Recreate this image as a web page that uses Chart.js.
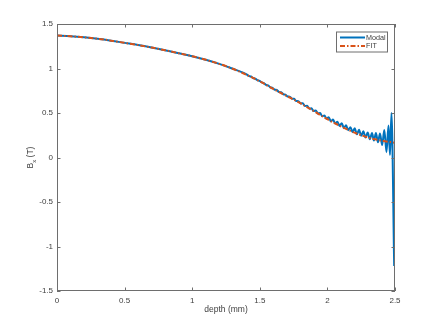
<!DOCTYPE html>
<html>
<head>
<meta charset="utf-8">
<script src="https://cdn.jsdelivr.net/npm/chart.js@4/dist/chart.umd.min.js"></script>
<style>
  html, body { margin: 0; padding: 0; background: #fff; }
  #wrap { width: 436px; height: 327px; }
</style>
</head>
<body>
<div id="wrap"><canvas id="bxChart"></canvas></div>
<script>
// values
const fitDepth = [0, 0.1, 0.2, 0.3, 0.4, 0.5, 0.6, 0.7, 0.8, 0.9, 1.0, 1.1, 1.2,
    1.3, 1.4, 1.5, 1.6, 1.7, 1.8, 1.9, 2.0, 2.1, 2.2, 2.3, 2.4, 2.5];
const fitBx = [1.370, 1.362, 1.350, 1.334, 1.313, 1.288, 1.263, 1.235, 1.205, 1.172,
    1.138, 1.098, 1.052, 0.997, 0.930, 0.855, 0.770, 0.690, 0.610, 0.520, 0.430,
    0.350, 0.280, 0.225, 0.190, 0.165];

const modalDepth = [0, 0.1, 0.2, 0.3, 0.4, 0.5, 0.6, 0.7, 0.8, 0.9, 1.0, 1.1, 1.2, 1.3,
    1.402, 1.418, 1.434, 1.450, 1.466, 1.482, 1.498, 1.514, 1.530, 1.546, 1.562,
    1.578, 1.594, 1.610, 1.626, 1.642, 1.658, 1.674, 1.690, 1.706, 1.722, 1.738,
    1.754, 1.770, 1.786, 1.802, 1.818, 1.834, 1.850, 1.866, 1.882, 1.898, 1.914,
    1.930, 1.946, 1.962, 1.978, 1.994, 2.010, 2.026, 2.042, 2.058, 2.074, 2.090,
    2.106, 2.122, 2.138, 2.154, 2.170, 2.186, 2.202, 2.218, 2.234, 2.250, 2.266,
    2.282, 2.298, 2.314, 2.330, 2.344, 2.359, 2.374, 2.389, 2.405, 2.421, 2.437,
    2.452, 2.463, 2.474, 2.494];
const modalBx = [1.370, 1.362, 1.350, 1.334, 1.313, 1.288, 1.263, 1.235, 1.205, 1.172,
    1.138, 1.098, 1.052, 0.997,
    0.934, 0.917, 0.910, 0.893, 0.886, 0.869, 0.862, 0.843, 0.837, 0.816, 0.809,
    0.789, 0.782, 0.762, 0.758, 0.736, 0.733, 0.711, 0.707, 0.685, 0.684, 0.660,
    0.659, 0.634, 0.633, 0.608, 0.610, 0.579, 0.581, 0.551, 0.552, 0.522, 0.529,
    0.493, 0.501, 0.464, 0.472, 0.435, 0.452, 0.406, 0.426, 0.381, 0.401, 0.355,
    0.386, 0.330, 0.363, 0.307, 0.341, 0.285, 0.329, 0.260, 0.311, 0.243, 0.294,
    0.225, 0.280, 0.205, 0.275, 0.190, 0.275, 0.170, 0.270, 0.140, 0.310, 0.060,
    0.360, 0.030, 0.500, -1.220];

const xTicks = [0, 0.5, 1, 1.5, 2, 2.5];
const yTicks = [-1.5, -1, -0.5, 0, 0.5, 1, 1.5];
const seriesNames = ['Modal', 'FIT'];

const modalColor = '#0072BD';
const fitColor = '#D95319';
const fitDash = [5, 2, 1.5, 2];
const axisColor = '#6e6e6e';
const textColor = '#404040';

function toPoints(xs, ys) {
    return xs.map((x, i) => ({ x: x, y: ys[i] }));
}

// MATLAB style box, inward ticks, axis labels and legend
const matlabAxes = {
    id: 'matlabAxes',
    afterDraw(chart) {
        const ctx = chart.ctx;
        const area = chart.chartArea;
        const xs = chart.scales.x;
        const ys = chart.scales.y;
        const tl = 3.5;
        ctx.save();
        ctx.strokeStyle = axisColor;
        ctx.lineWidth = 1;
        ctx.strokeRect(area.left + 0.5, area.top + 0.5, area.right - area.left - 1, area.bottom - area.top - 1);
        ctx.beginPath();
        xTicks.forEach(v => {
            const px = Math.round(xs.getPixelForValue(v)) + 0.5;
            ctx.moveTo(px, area.bottom);
            ctx.lineTo(px, area.bottom - tl);
            ctx.moveTo(px, area.top);
            ctx.lineTo(px, area.top + tl);
        });
        yTicks.forEach(v => {
            const py = Math.round(ys.getPixelForValue(v)) + 0.5;
            ctx.moveTo(area.left, py);
            ctx.lineTo(area.left + tl, py);
            ctx.moveTo(area.right, py);
            ctx.lineTo(area.right - tl, py);
        });
        ctx.stroke();

        // axis labels
        ctx.fillStyle = textColor;
        ctx.font = '8.5px "Liberation Sans", Arial, sans-serif';
        ctx.textAlign = 'center';
        ctx.textBaseline = 'middle';
        ctx.fillText('depth (mm)', (area.left + area.right) / 2, 310);

        ctx.save();
        ctx.translate(31, (area.top + area.bottom) / 2);
        ctx.rotate(-Math.PI / 2);
        const partB = 'B', partSub = 'x', partRest = ' (T)';
        ctx.font = '8.5px "Liberation Sans", Arial, sans-serif';
        const wB = ctx.measureText(partB).width;
        const wR = ctx.measureText(partRest).width;
        ctx.font = '6px "Liberation Sans", Arial, sans-serif';
        const wS = ctx.measureText(partSub).width;
        let x0 = -(wB + wS + wR) / 2;
        ctx.textAlign = 'left';
        ctx.font = '8.5px "Liberation Sans", Arial, sans-serif';
        ctx.fillText(partB, x0, 0);
        ctx.font = '6px "Liberation Sans", Arial, sans-serif';
        ctx.fillText(partSub, x0 + wB, 3);
        ctx.font = '8.5px "Liberation Sans", Arial, sans-serif';
        ctx.fillText(partRest, x0 + wB + wS, 0);
        ctx.restore();

        // legend
        const lx = 336, ly = 31.5, lw = 51, lh = 20;
        ctx.fillStyle = '#fff';
        ctx.fillRect(lx, ly, lw, lh);
        ctx.strokeStyle = axisColor;
        ctx.lineWidth = 1;
        ctx.strokeRect(lx + 0.5, ly + 0.5, lw, lh);
        const rows = [ly + 6, ly + 14.5];
        chart.data.datasets.forEach((ds, i) => {
            ctx.beginPath();
            ctx.strokeStyle = ds.borderColor;
            ctx.lineWidth = 2;
            ctx.setLineDash(ds.borderDash || []);
            ctx.moveTo(lx + 4, rows[i]);
            ctx.lineTo(lx + 29, rows[i]);
            ctx.stroke();
            ctx.setLineDash([]);
            ctx.fillStyle = textColor;
            ctx.font = '7.2px "Liberation Sans", Arial, sans-serif';
            ctx.textAlign = 'left';
            ctx.textBaseline = 'middle';
            ctx.fillText(ds.label, lx + 30, rows[i] + 0.5);
        });
        ctx.restore();
    }
};

const ctx = document.getElementById('bxChart').getContext('2d');
new Chart(ctx, {
    type: 'line',
    data: {
        datasets: [{
            label: seriesNames[0],
            data: toPoints(modalDepth, modalBx),
            borderColor: modalColor,
            borderWidth: 2,
            pointRadius: 0,
            cubicInterpolationMode: 'monotone',
            order: 2,
            fill: false
        }, {
            label: seriesNames[1],
            data: toPoints(fitDepth, fitBx),
            borderColor: fitColor,
            borderWidth: 2,
            borderDash: fitDash,
            pointRadius: 0,
            cubicInterpolationMode: 'monotone',
            order: 1,
            fill: false
        }]
    },
    options: {
        responsive: true,
        maintainAspectRatio: false,
        animation: false,
        layout: {
            padding: { left: 0, right: 41, top: 24, bottom: 0 }
        },
        plugins: {
            legend: { display: false },
            tooltip: { enabled: false }
        },
        scales: {
            x: {
                type: 'linear',
                min: 0,
                max: 2.5,
                grid: { display: false, drawTicks: false },
                border: { display: false },
                afterBuildTicks(scale) {
                    scale.ticks = xTicks.map(v => ({ value: v }));
                },
                afterFit(scale) {
                    scale.height = 36;
                },
                ticks: {
                    padding: 5,
                    color: textColor,
                    font: { family: '"Liberation Sans", Arial, sans-serif', size: 8 },
                    maxRotation: 0,
                    callback: v => String(v)
                }
            },
            y: {
                type: 'linear',
                min: -1.5,
                max: 1.5,
                grid: { display: false, drawTicks: false },
                border: { display: false },
                afterBuildTicks(scale) {
                    scale.ticks = yTicks.map(v => ({ value: v }));
                },
                afterFit(scale) {
                    scale.width = 57;
                },
                ticks: {
                    padding: 4,
                    color: textColor,
                    font: { family: '"Liberation Sans", Arial, sans-serif', size: 8 },
                    callback: v => String(v)
                }
            }
        }
    },
    plugins: [matlabAxes]
});
</script>
</body>
</html>
